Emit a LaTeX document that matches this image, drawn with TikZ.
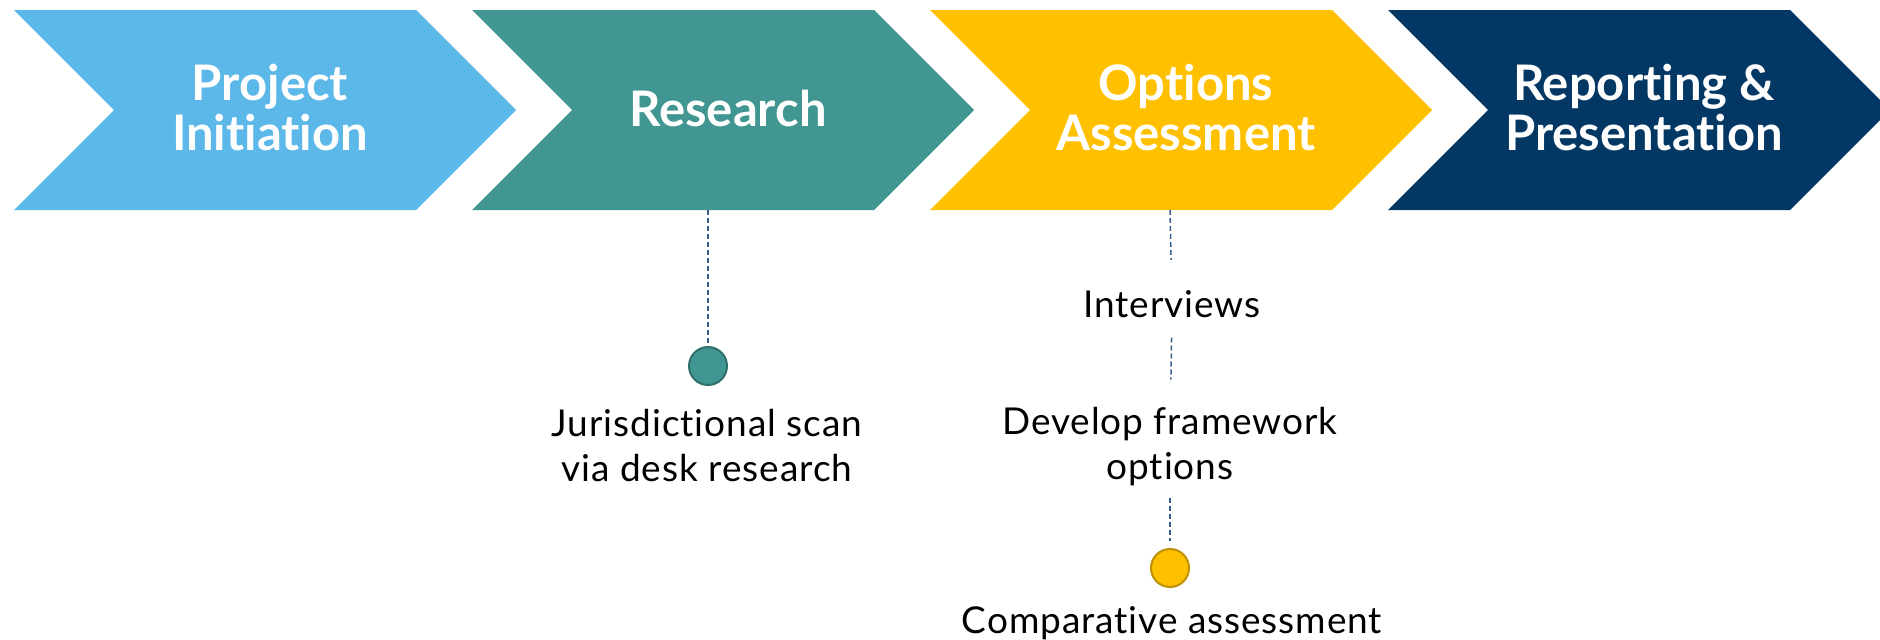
\documentclass[tikz,border=0pt]{standalone}
\usepackage{fontspec}
\setmainfont{Lato}[Ligatures=NoCommon]
\newfontfamily\stepFont{Lato}[LetterSpace=2.5, Ligatures=NoCommon]
\usetikzlibrary{positioning}
\tikzstyle{pixelGrid} = [x = 1pt, y = -1pt]
\definecolor{initBlue}{RGB}{91,184,233}
\definecolor{researchTeal}{RGB}{65,150,145}
\definecolor{researchTealDark}{RGB}{46,112,108}
\definecolor{optionsGold}{RGB}{255,192,0}
\definecolor{optionsGoldDark}{RGB}{191,144,0}
\definecolor{reportNavy}{RGB}{3,55,100}
\definecolor{linkBlue}{RGB}{55,95,140}
\tikzstyle{phaseText} = [text=white, font=\fontsize{49}{50}\selectfont\bfseries, align=center, inner sep=0]
\tikzstyle{stepText} = [text=black, font=\stepFont\fontsize{37}{45}\selectfont, align=center, inner sep=0]
\tikzstyle{dashLink} = [color=linkBlue, line width=1.5pt, dash pattern=on 5pt off 3pt]
\tikzstyle{milestone} = [circle, minimum size=38pt, inner sep=0, line width=2pt]
\newcommand{\chevronWidth}{402}
\newcommand{\chevronTip}{100}
% chevron: left edge, colour, node name, label
\newcommand{\phaseChevron}[4]{
  \fill [#2] (#1, 10) -- ++(\chevronWidth, 0) -- ++(\chevronTip, 100) -- ++(-\chevronTip, 100)
    -- ++(-\chevronWidth, 0) -- ++(\chevronTip, -100) -- cycle;
  \node [phaseText] (#3) at (#1 + 256, 108) {#4};
}

\begin{document}
\begin{tikzpicture}[pixelGrid]
  \useasboundingbox (0, 0) rectangle (1880, 640);
  \clip (0, 0) rectangle (1880, 640);

  \phaseChevron{14}{initBlue}{initiation}{Project\\Initiation}
  \phaseChevron{472}{researchTeal}{research}{Research}
  \phaseChevron{930}{optionsGold}{options}{Options\\Assessment}
  \phaseChevron{1388}{reportNavy}{reporting}{Reporting \&\\Presentation}

  \coordinate (researchFoot) at (708, 210);
  \coordinate (optionsFoot) at (1170, 210);

  % research steps
  \node [milestone, fill=researchTeal, draw=researchTealDark] (scanDot) at (708, 366) {};
  \node [stepText] (scanText) at (707, 446) {Jurisdictional scan\\via desk research};
  \draw [dashLink] (researchFoot) -- (scanDot);

  % options steps
  \node [stepText, anchor=base] (interviewsText) at (1172, 317) {Interviews};
  \node [stepText] (frameworkText) at (1170, 447) {Develop framework\\options};
  \node [milestone, fill=optionsGold, draw=optionsGoldDark] (compareDot) at (1170, 568) {};
  \node [stepText, anchor=base] (compareText) at (1172, 633) {Comparative assessment};
  \draw [dashLink, shorten >=30pt] (optionsFoot) -- (interviewsText);
  \draw [dashLink, shorten <=20pt, shorten >=28pt] (interviewsText) -- (frameworkText);
  \draw [dashLink, shorten <=11pt, shorten >=7pt] (frameworkText) -- (compareDot);
\end{tikzpicture}
\end{document}
